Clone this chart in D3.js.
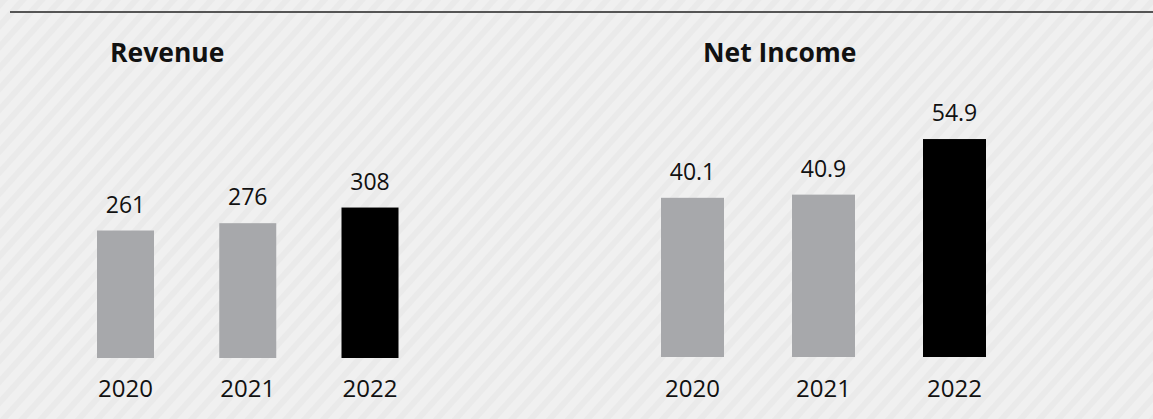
<!DOCTYPE html>
<html>
<head>
<meta charset="utf-8">
<script src="https://cdn.jsdelivr.net/npm/d3@7"></script>
<style>
  html, body { margin: 0; padding: 0; background: #efefef; }
  svg { display: block; }
  text { font-family: "Open Sans", "Noto Sans", sans-serif; fill: #111; }
</style>
</head>
<body>
<svg id="chart" width="1153" height="419"></svg>
<script>
// Financial highlights, two small bar panels
const years = ["2020", "2021", "2022"];
const revenue = [261, 276, 308];
const revenueLabels = ["261", "276", "308"];
const netIncome = [40.1, 40.9, 54.9];
const netIncomeLabels = ["40.1", "40.9", "54.9"];
const panelTitles = ["Revenue", "Net Income"];

const W = 1153, H = 419;
const svg = d3.select("#chart");

// Background with soft diagonal stripes
const defs = svg.append("defs");
const pat = defs.append("pattern")
  .attr("id", "stripes")
  .attr("patternUnits", "userSpaceOnUse")
  .attr("width", 14).attr("height", 14)
  .attr("patternTransform", "rotate(42)");
pat.append("rect").attr("width", 14).attr("height", 14).attr("fill", "#f0f0f0");
pat.append("rect").attr("width", 6).attr("height", 14).attr("fill", "#eaeaea");
svg.append("rect").attr("width", W).attr("height", H).attr("fill", "url(#stripes)");

// Rule along the top
svg.append("line")
  .attr("x1", 10).attr("x2", W)
  .attr("y1", 12).attr("y2", 12)
  .attr("stroke", "#555").attr("stroke-width", 2);

const panels = [
  { title: panelTitles[0], titleX: 110, values: revenue, labels: revenueLabels,
    x: d3.scalePoint().domain(years).range([125.5, 370]), barW: 57,
    y: d3.scaleLinear().domain([0, 400]).range([358, 358 - 195.4]) },
  { title: panelTitles[1], titleX: 703, values: netIncome, labels: netIncomeLabels,
    x: d3.scalePoint().domain(years).range([692.5, 954.5]), barW: 63,
    y: d3.scaleLinear().domain([0, 60]).range([357, 357 - 238.2]) }
];

const barColor = (i) => i === years.length - 1 ? "#000000" : "#a7a8ab";

panels.forEach(p => {
  const g = svg.append("g");

  g.append("text")
    .attr("x", p.titleX).attr("y", 62)
    .attr("font-size", 26.5).attr("font-weight", 700)
    .text(p.title);

  g.selectAll("rect.bar").data(p.values).join("rect")
    .attr("class", "bar")
    .attr("x", (d, i) => p.x(years[i]) - p.barW / 2)
    .attr("width", p.barW)
    .attr("y", d => p.y(d))
    .attr("height", d => p.y(0) - p.y(d))
    .attr("fill", (d, i) => barColor(i));

  g.selectAll("text.val").data(p.values).join("text")
    .attr("class", "val")
    .attr("x", (d, i) => p.x(years[i]))
    .attr("y", d => p.y(d) - 18)
    .attr("text-anchor", "middle")
    .attr("font-size", 23)
    .text((d, i) => p.labels[i]);

  g.selectAll("text.year").data(years).join("text")
    .attr("class", "year")
    .attr("x", d => p.x(d))
    .attr("y", 397)
    .attr("text-anchor", "middle")
    .attr("font-size", 24)
    .text(d => d);
});
</script>
</body>
</html>
